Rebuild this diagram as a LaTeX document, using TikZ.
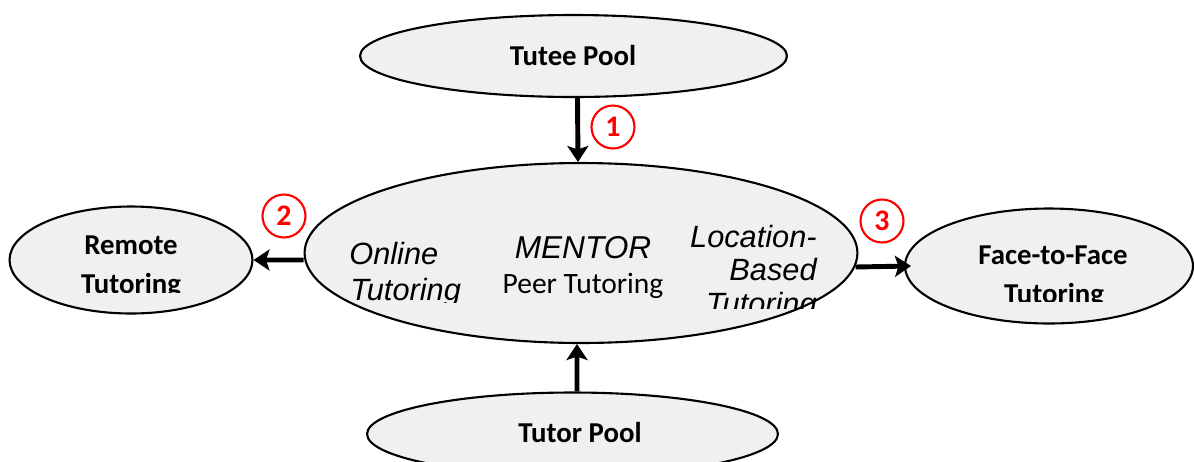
\documentclass[tikz,border=0pt]{standalone}
\usepackage{fontspec}
\setmainfont{Carlito}
\newfontfamily\arialfont{Liberation Sans}
\usetikzlibrary{shapes.geometric,arrows.meta}

\begin{document}
\begin{tikzpicture}[x=0.02cm,y=-0.02cm,
	pool/.style={ellipse,draw,line width=1.2pt,fill=gray!12,inner sep=0pt},
	flow/.style={line width=2.8pt,-{Stealth[length=0.32cm,width=0.42cm,inset=0.07cm]}},
	stepnum/.style={circle,draw=red,line width=1.2pt,text=red,minimum size=0.86cm,inner sep=0pt,font=\fontsize{17}{17}\selectfont\bfseries},
	lbl/.style={font=\fontsize{16.4}{16.4}\selectfont\bfseries,inner sep=0pt},
	itl/.style={font=\arialfont\itshape\fontsize{17.5}{17.5}\selectfont,inner sep=0pt}]
	\useasboundingbox (0,0) rectangle (1194,461);
	\node[pool,minimum width=8.54cm,minimum height=1.64cm] (tutee) at (573.5,56) {};
	\node[pool,minimum width=11.06cm,minimum height=3.6cm] (mentor) at (581,253) {};
	\node[pool,minimum width=4.86cm,minimum height=2.14cm] (remote) at (131,260) {};
	\node[pool,minimum width=5.76cm,minimum height=2.3cm] (f2f) at (1049,266) {};
	\node[pool,minimum width=8.22cm,minimum height=1.66cm] (tutor) at (572.5,434) {};
	\node[lbl,anchor=base] (tuteetxt) at (573,65) {Tutee Pool};
	\node[lbl,anchor=base] (tutortxt) at (580,442) {Tutor Pool};
	\node[lbl,anchor=base] (remotetxt) at (131,254) {Remote};
	\node[lbl,anchor=base] (f2ftxt) at (1053,264) {Face-to-Face};
	\begin{scope}
		\clip (0,0) rectangle (300,292);
		\node[lbl,anchor=base] (remotetxtb) at (131,293) {Tutoring};
	\end{scope}
	\begin{scope}
		\clip (900,0) rectangle (1194,301);
		\node[lbl,anchor=base] (f2ftxtb) at (1054,303) {Tutoring};
	\end{scope}
	\node[itl,anchor=base west] (onlinetxt) at (349,264) {Online};
	\begin{scope}
		\clip (320,0) rectangle (500,302);
		\node[itl,anchor=base west] (onlinetxtb) at (350,300) {Tutoring};
	\end{scope}
	\node[itl,font=\arialfont\itshape\fontsize{18}{18}\selectfont,anchor=base] (mentortxt) at (583,258) {MENTOR};
	\node[inner sep=0pt,font=\fontsize{16.8}{16.8}\selectfont,anchor=base] (peertxt) at (583,293) {Peer Tutoring};
	\node[itl,anchor=base east] (loctxt) at (817,247) {Location-};
	\node[itl,anchor=base east] (loctxtb) at (817,280) {Based};
	\begin{scope}
		\clip (650,0) rectangle (850,308);
		\node[itl,anchor=base east] (loctxtc) at (817,314) {Tutoring};
	\end{scope}
	\draw[flow] ([xshift=0.08cm]tutee.south) -- ([xshift=-0.06cm]mentor.north);
	\draw[flow] ([xshift=0.09cm]tutor.north) -- ([xshift=-0.08cm]mentor.south);
	\draw[flow] ([yshift=-0.14cm]mentor.west) -- (remote.east);
	\draw[flow] ([yshift=-0.28cm,xshift=-0.06cm]mentor.east) -- ([xshift=0.14cm]f2f.west);
	\node[stepnum] (one) at (613,127) {1};
	\node[stepnum] (two) at (284,216) {2};
	\node[stepnum] (three) at (882,221) {3};
\end{tikzpicture}
\end{document}
